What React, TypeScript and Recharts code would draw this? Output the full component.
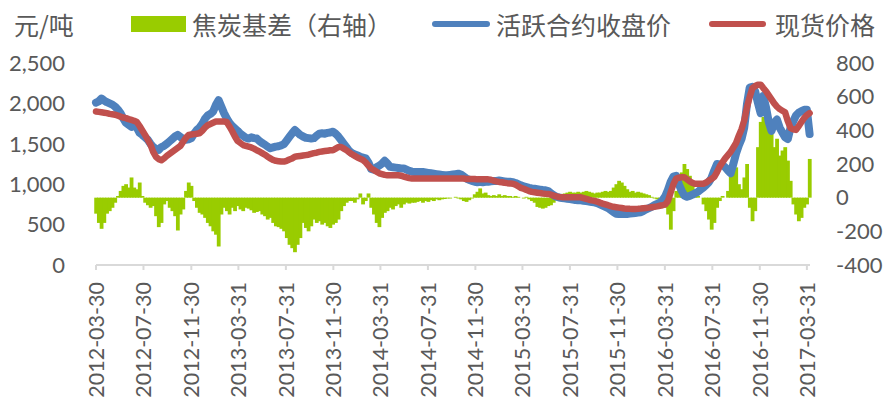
import { ComposedChart, Bar, Line, XAxis, YAxis, Legend } from 'recharts';

// weekly samples, first one on the opening date
const START_DATE = '2012-03-30';
const END_DATE = '2017-04-08';

const tickDates = [
  '2012-03-30', '2012-07-30', '2012-11-30', '2013-03-31', '2013-07-31', '2013-11-30',
  '2014-03-31', '2014-07-31', '2014-11-30', '2015-03-31', '2015-07-31', '2015-11-30',
  '2016-03-31', '2016-07-31', '2016-11-30', '2017-03-31',
];

const leftTicks = [0, 500, 1000, 1500, 2000, 2500];
const rightTicks = [-400, -200, 0, 200, 400, 600, 800];

// 活跃合约收盘价 (元/吨)
const futuresClose = [
  2010, 2025, 2060, 2035, 2015, 2000, 1985, 1960, 1925, 1880,
  1815, 1760, 1735, 1710, 1760, 1700, 1635, 1610, 1580, 1550,
  1500, 1460, 1435, 1425, 1460, 1475, 1500, 1530, 1560, 1590,
  1610, 1585, 1560, 1550, 1555, 1570, 1625, 1670, 1700, 1745,
  1810, 1850, 1870, 1900, 1980, 2040, 1960, 1880, 1815, 1760,
  1720, 1690, 1660, 1625, 1600, 1575, 1565, 1580, 1570, 1565,
  1535, 1510, 1490, 1465, 1445, 1455, 1465, 1470, 1480, 1495,
  1540, 1585, 1630, 1670, 1640, 1610, 1590, 1575, 1570, 1565,
  1570, 1600, 1625, 1630, 1625, 1635, 1640, 1650, 1625, 1590,
  1545, 1500, 1455, 1410, 1385, 1370, 1355, 1340, 1330, 1320,
  1270, 1190, 1180, 1210, 1230, 1255, 1290, 1255, 1215, 1210,
  1205, 1200, 1195, 1195, 1180, 1165, 1155, 1150, 1150, 1150,
  1150, 1145, 1140, 1135, 1130, 1125, 1120, 1115, 1110, 1110,
  1115, 1120, 1125, 1130, 1120, 1095, 1070, 1055, 1040, 1030,
  1025, 1030, 1025, 1030, 1030, 1035, 1040, 1040, 1045, 1040,
  1035, 1030, 1030, 1025, 1015, 1000, 985, 975, 965, 955,
  948, 943, 938, 933, 928, 925, 915, 890, 865, 845,
  835, 830, 825, 820, 815, 810, 805, 802, 800, 795,
  790, 785, 780, 775, 765, 750, 735, 720, 705, 680,
  655, 635, 630, 632, 630, 632, 636, 640, 644, 648,
  652, 670, 690, 705, 720, 740, 755, 772, 800, 850,
  930, 1030, 1095, 1105, 1000, 920, 860, 845, 855, 870,
  890, 905, 935, 960, 990, 1025, 1080, 1170, 1250, 1245,
  1238, 1210, 1170, 1135, 1250, 1380, 1480, 1560, 1700, 1990,
  2195, 2205, 2150, 2010, 1880, 2090, 1950, 1770, 1660, 1760,
  1800, 1700, 1640, 1580, 1560, 1700, 1780, 1850, 1885, 1905,
  1920, 1920, 1620,
];

// 现货价格 (元/吨)
const spotPrice = [
  1900, 1895, 1890, 1885, 1880, 1870, 1865, 1860, 1850, 1835,
  1825, 1818, 1805, 1795, 1785, 1770, 1720, 1665, 1610, 1550,
  1490, 1400, 1340, 1310, 1297, 1320, 1350, 1375, 1400, 1425,
  1450, 1475, 1525, 1575, 1610, 1615, 1620, 1625, 1630, 1660,
  1700, 1730, 1745, 1760, 1775, 1775, 1775, 1775, 1770, 1715,
  1655, 1590, 1535, 1510, 1485, 1475, 1465, 1455, 1440, 1420,
  1405, 1385, 1365, 1340, 1320, 1300, 1290, 1285, 1280, 1280,
  1290, 1305, 1318, 1340, 1345, 1350, 1355, 1360, 1365, 1375,
  1385, 1390, 1400, 1405, 1410, 1415, 1420, 1420, 1440, 1460,
  1460, 1440, 1420, 1395, 1370, 1350, 1330, 1315, 1300, 1270,
  1230, 1195, 1175, 1155, 1135, 1125, 1115, 1110, 1110, 1110,
  1110, 1110, 1105, 1095, 1085, 1075, 1070, 1070, 1070, 1070,
  1070, 1070, 1070, 1070, 1070, 1070, 1070, 1070, 1070, 1070,
  1070, 1070, 1070, 1070, 1070, 1070, 1065, 1065, 1065, 1065,
  1060, 1060, 1060, 1060, 1060, 1055, 1045, 1035, 1028, 1024,
  1018, 1013, 1010, 1006, 995, 975, 955, 943, 930, 915,
  905, 900, 895, 890, 885, 882, 880, 870, 860, 850,
  842, 840, 840, 840, 840, 840, 840, 840, 838, 828,
  818, 808, 800, 795, 785, 772, 760, 750, 740, 728,
  720, 715, 710, 705, 700, 697, 695, 694, 694, 695,
  698, 702, 706, 710, 715, 720, 726, 733, 740, 750,
  790, 900, 1000, 1070, 1080, 1085, 1085, 1060, 1035, 1015,
  1005, 1005, 1005, 1005, 1020, 1045, 1065, 1090, 1150, 1220,
  1270, 1320, 1360, 1400, 1455, 1510, 1600, 1680, 1790, 1950,
  2080, 2190, 2215, 2230, 2232, 2190, 2150, 2100, 2050, 2000,
  1960, 1930, 1910, 1890, 1780, 1695, 1680, 1672, 1720, 1770,
  1820, 1855, 1880,
];

// 焦炭基差, right axis
const cokeBasis = [
  -95, -150, -185, -150, -95, -80, -60, -30, 10, 40,
  70, 80, 60, 120, 60, 50, 90, 10, -30, -45,
  -60, -50, -110, -175, -150, -40, -20, -60, -80, -110,
  -195, -100, -70, 40, 90, 70, -20, -60, -90, -100,
  -120, -150, -170, -200, -220, -290, -100, -60, -80, -100,
  -60, -80, -50, -70, -80, -60, -65, -75, -90, -85,
  -80, -100, -110, -130, -120, -150, -170, -175, -185, -200,
  -240, -280, -300, -324, -280, -240, -150, -180, -200, -170,
  -130, -150, -140, -160, -150, -170, -180, -160, -150, -130,
  -80, -50, -30, -20, -20, -30, -10, 25, -40, -20,
  25, -60, -100, -150, -175, -120, -90, -80, -60, -70,
  -50, -40, -60, -40, -30, -35, -30, -30, -25, -20,
  -30, -20, -25, -15, -20, -10, -15, -10, -8, -5,
  -5, 0, 5, -5, -10, -20, -25, -15, -5, 20,
  35, 55, 25, 30, 15, 10, 15, 10, 20, 10,
  15, 10, 10, 5, 10, 5, 0, -5, 5, -10,
  -20, -30, -55, -60, -65, -60, -50, -45, -30, -15,
  10, 20, 25, 30, 35, 30, 30, 35, 30, 35,
  40, 35, 30, 25, 30, 30, 35, 40, 35, 40,
  60, 80, 100, 90, 70, 50, 35, 40, 30, 35,
  30, 25, 20, 15, 5, -5, -10, -15, -20, -60,
  -100, -190, -80, 40, 100, 150, 200, 170, 130, 80,
  30, 10, 0, -40, -80, -130, -190, -150, -60, -20,
  10, 0, 40, 150, 200, 180, 80, 50, 120, 200,
  -60, -140, -80, 300, 450, 480, 520, 500, 430, 300,
  350, 250, 280, 300, 220, 100, -40, -100, -140, -120,
  -60, -40, 230,
];

const DAY = 86400000;
const startTs = Date.parse(START_DATE);
const endTs = Date.parse(END_DATE);
const tickTs = tickDates.map((d) => Date.parse(d));

const data = futuresClose.map((close, i) => ({
  t: startTs + i * 7 * DAY,
  close,
  spot: spotPrice[i],
  basis: cokeBasis[i],
}));

const TEXT = '#595959';
const GREEN = '#99CC00';
const NUM_FONT = 'Lato, "Noto Sans", sans-serif';
const CJK_FONT = '"Noto Sans CJK SC", "Noto Sans", sans-serif';

const DateTick = ({ x, y, payload }: any) => (
  <text
    x={x}
    y={y}
    transform={`rotate(-90, ${x}, ${y})`}
    textAnchor="end"
    dominantBaseline="central"
    fill={TEXT}
    fontSize={21.5}
    fontFamily={NUM_FONT}
  >
    {new Date(payload.value).toISOString().slice(0, 10)}
  </text>
);

// weekly columns are widened a little so neighbours touch, like a filled band
const BasisColumn = ({ x, y, width, height }: any) => {
  if (!height) return null;
  const top = Math.min(y, y + height);
  return <rect x={x - 0.4} y={top} width={width + 0.8} height={Math.abs(height)} fill={GREEN} />;
};

const TopLegend = () => (
  <div
    style={{
      position: 'relative',
      width: 885,
      height: 44,
      fontFamily: CJK_FONT,
      fontSize: 25,
      lineHeight: '25px',
      color: TEXT,
      whiteSpace: 'nowrap',
    }}
  >
    <span style={{ position: 'absolute', left: 14, top: 12 }}>元/吨</span>
    <span style={{ position: 'absolute', left: 131, top: 16, width: 55, height: 16, background: GREEN }} />
    <span style={{ position: 'absolute', left: 192, top: 12 }}>焦炭基差（右轴）</span>
    <span style={{ position: 'absolute', left: 432, top: 21, width: 58, height: 6, borderRadius: 3, background: '#4F81BD' }} />
    <span style={{ position: 'absolute', left: 496, top: 12 }}>活跃合约收盘价</span>
    <span style={{ position: 'absolute', left: 709, top: 21, width: 57, height: 6, borderRadius: 3, background: '#C0504D' }} />
    <span style={{ position: 'absolute', left: 775, top: 12 }}>现货价格</span>
  </div>
);

export default function App() {
  return (
    <div style={{ position: 'absolute', left: 0, top: 0, background: '#fff' }}>
      <ComposedChart
        width={885}
        height={404}
        data={data}
        margin={{ top: 63, right: 0, bottom: 0, left: 0 }}
        barCategoryGap={0}
        barGap={0}
      >
        <XAxis
          dataKey="t"
          type="number"
          domain={[startTs, endTs]}
          ticks={tickTs}
          interval={0}
          height={139}
          tickSize={5}
          tickMargin={12}
          axisLine={{ stroke: '#D9D9D9', strokeWidth: 2 }}
          tickLine={{ stroke: '#D9D9D9', strokeWidth: 2 }}
          tick={<DateTick />}
        />
        <YAxis
          yAxisId="left"
          domain={[0, 2500]}
          ticks={leftTicks}
          width={96}
          axisLine={false}
          tickLine={false}
          tickMargin={25}
          tickFormatter={(v: number) => v.toLocaleString('en-US')}
          tick={{ fill: TEXT, fontSize: 22, fontFamily: NUM_FONT }}
        />
        <YAxis
          yAxisId="right"
          orientation="right"
          domain={[-400, 800]}
          ticks={rightTicks}
          width={75}
          axisLine={false}
          tickLine={false}
          tickMargin={20}
          tick={{ fill: TEXT, fontSize: 22, fontFamily: NUM_FONT }}
        />
        <Legend
          layout="horizontal"
          verticalAlign="middle"
          align="center"
          content={<TopLegend />}
          wrapperStyle={{ top: 0, left: 0, width: 885, height: 44 }}
        />
        <Bar
          yAxisId="right"
          dataKey="basis"
          fill={GREEN}
          shape={<BasisColumn />}
          isAnimationActive={false}
        />
        <Line
          yAxisId="left"
          type="linear"
          dataKey="close"
          stroke="#4F81BD"
          strokeWidth={8}
          strokeLinejoin="round"
          strokeLinecap="round"
          dot={false}
          isAnimationActive={false}
        />
        <Line
          yAxisId="left"
          type="linear"
          dataKey="spot"
          stroke="#C0504D"
          strokeWidth={6.5}
          strokeLinejoin="round"
          strokeLinecap="round"
          dot={false}
          isAnimationActive={false}
        />
      </ComposedChart>
    </div>
  );
}
